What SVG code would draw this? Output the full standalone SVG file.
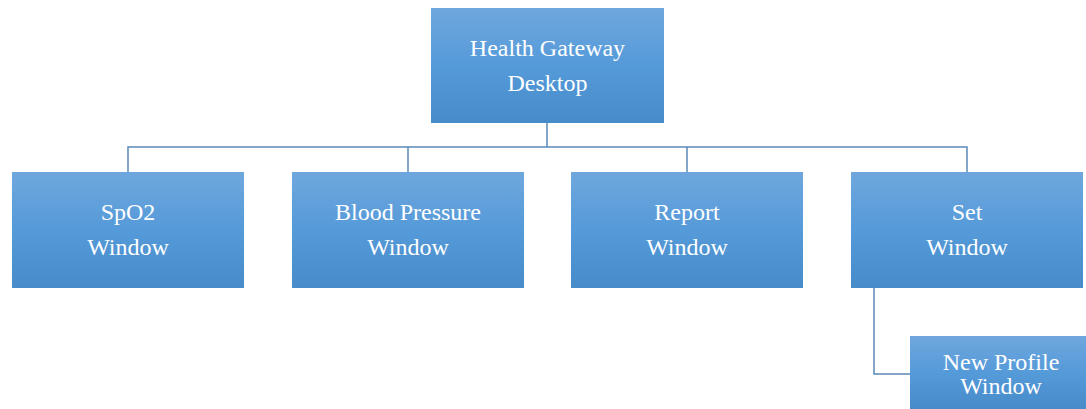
<svg xmlns="http://www.w3.org/2000/svg" width="1086" height="409" viewBox="0 0 1086 409">
<defs>
<linearGradient id="g" x1="0" y1="0" x2="0" y2="1">
<stop offset="0" stop-color="#6fa7dd"/>
<stop offset="0.5" stop-color="#559ad9"/>
<stop offset="1" stop-color="#478bc9"/>
</linearGradient>
<style>
.box{fill:url(#g);}
.c{fill:none;stroke:#5b89b8;stroke-width:1.5;}
text{font-family:'Liberation Serif','DejaVu Serif',serif;}
</style>
</defs>
<g id="connectors">
<path class="c" d="M547 123V147M128 172V147H967V172M408 147V172M687 147V172"/>
<path class="c" d="M874 288V374H910"/>
</g>
<g font-size="24" fill="#ffffff" text-anchor="middle">
<g id="n0"><rect class="box" x="431" y="8" width="233" height="115"/><text x="547.5" y="56">Health Gateway</text><text x="547.5" y="91">Desktop</text></g>
<g id="n1"><rect class="box" x="12" y="172" width="232" height="116"/><text x="128" y="220">SpO2</text><text x="128" y="255">Window</text></g>
<g id="n2"><rect class="box" x="292" y="172" width="232" height="116"/><text x="408" y="220">Blood Pressure</text><text x="408" y="255">Window</text></g>
<g id="n3"><rect class="box" x="571" y="172" width="232" height="116"/><text x="687" y="220">Report</text><text x="687" y="255">Window</text></g>
<g id="n4"><rect class="box" x="851" y="172" width="232" height="116"/><text x="967" y="220">Set</text><text x="967" y="255">Window</text></g>
<g id="n5"><rect class="box" x="910" y="336" width="182" height="73"/><text x="1001" y="370">New Profile</text><text x="1001" y="394">Window</text></g>
</g>
</svg>
